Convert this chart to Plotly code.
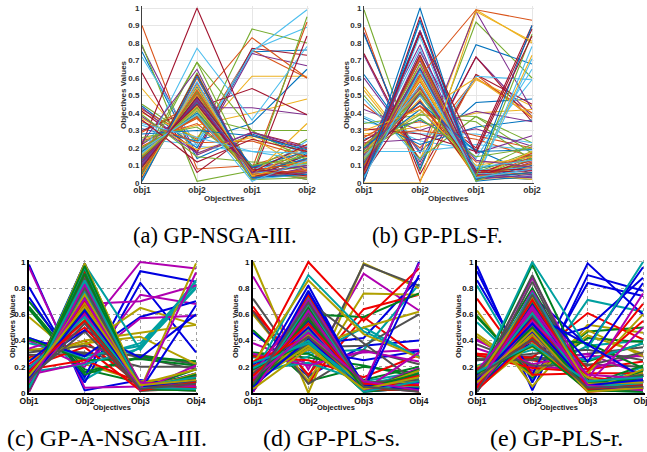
import plotly.graph_objects as go

a_obj1 = [.75,.90,.54,.78,.79,.72,.63, .44,.42,.40,.43,.45,.33,.41, .31,.29,.25,.22,.23,.25,.30, .20,.24,.21,.19,.18,.15,.22,
          .16,.13,.17,.12,.14,.16,.11, .10,.09,.12,.07,.10,.05,.08, .05,.06,.04,.10,.02,.03,.06, .13,.01,.08,.15,.06,.11,.03,
          .18,.21,.14,.23,.20,.17,.12, .09,.19,.16,.11,.26,.02,.14, .28,.35,.37,.38,.39,.34,.36, .01,.07,.04,.12,.15,.19,.09]
a_obj2 = [.14,.08,.17,.16,.01,.21,.06, .20,.25,.26,.17,.24,.23,.18, .24,.46,.33,.43,.38,.22,.43, .38,.34,.37,.46,.41,.77,1.0,
          .45,.47,.43,.50,.69,.42,.47, .48,.50,.46,.57,.69,.53,.50, .55,.51,.54,.49,.63,.56,.52, .46,.60,.50,.44,.52,.48,.62,
          .40,.37,.44,.65,.39,.42,.47, .49,.38,.42,.47,.32,.58,.45, .30,.23,.19,.17,.15,.26,.12, .61,.53,.56,.48,.43,.39,.49]
a_obj3 = [.28,.10,.27,.29,.07,.18,.29, .75,.76,.61,.74,.88,.76,.77, .34,.83,.40,.43,.30,.75,.54, .05,.08,.07,.03,.04,.36,.27,
          .03,.07,.06,.05,.06,.04,.03, .02,.04,.06,.08,.30,.03,.09, .03,.02,.05,.04,.02,.06,.05, .10,.04,.06,.09,.05,.07,.03,
          .06,.05,.03,.02,.08,.05,.04, .09,.07,.04,.03,.10,.02,.06, .27,.24,.26,.29,.12,.18,.25, .03,.05,.04,.06,.02,.01,.08]
a_obj4 = [.17,.20,.15,.18,.25,.13,.21, .76,.60,.61,.67,.80,.89,.73, .65,.60,.48,.39,.30,.99,.39, .05,.92,.03,.08,.95,.78,.20,
          .12,.06,.10,.04,.09,.24,.84, .17,.08,.13,.02,.13,.12,.05, .16,.14,.11,.07,.18,.03,.10, .09,.19,.04,.13,.06,.21,.16,
          .14,.03,.22,.09,.02,.11,.07, .18,.12,.34,.06,.15,.05,.22, .19,.15,.07,.20,.11,.17,.18, .05,.07,.12,.10,.03,.13,.04]

b_obj1 = [.62,.89,.55,.73,.99,.38,.86, .85,.45,.53,.60,.50,.35,.74, .37,.30,.28,.42,.34,.48,.31, .25,.27,.21,.23,.20,.18,.24,
          .18,.22,.15,.19,.17,.16,.13, .10,.12,.08,.14,.09,.11,.06, .05,.07,.03,.10,.06,.04,.02, .11,.15,.13,.16,.08,.12,.01,
          .09,.19,.17,.07,.21,.05,.03, .04,.06,.14,.02,.10,.13,.08, .20,.26,.30,.12,.18,.15,.05, .01,.10,.00,.08,.13,.03,.07]
b_obj2 = [.18,.01,.14,.10,.07,.24,.05, .08,.20,.13,.17,.14,.28,.12, .22,.35,.32,.30,.39,.13,.28, .36,.30,.40,.25,.39,.18,.44,
          .42,.46,.48,.52,.54,.50,.47, .56,.58,.60,.54,.60,.62,.64, 1.0,.72,.68,.70,.65,.92,.95, .65,.62,.59,.79,.73,.77,.86,
          .87,.55,.53,.75,.50,.84,.87, .65,.71,.60,.87,.68,.56,.73, .46,.44,.42,.51,.37,.50,.52, .93,.61,.00,.66,.52,.64,.86]
b_obj3 = [.46,.62,.59,.72,.92,.19,.62, .79,.60,.99,.98,.38,.28,.72, .32,.27,.40,.41,.38,.61,.18, .19,.25,.60,.31,.35,.22,.20,
          .08,.05,.03,.04,.05,.14,.04, .03,.05,.02,.06,.04,.08,.05, .01,.03,.04,.02,.06,.07,.03, .04,.06,.05,.02,.03,.01,.05,
          .06,.02,.03,.17,.07,.02,.04, .02,.04,.05,.03,.01,.06,.07, .18,.12,.10,.13,.15,.09,.06, .03,.99,.98,.05,.04,.03,.17]
b_obj4 = [.48,.37,.44,.38,.60,.59,.45, .68,.40,.80,.42,.23,.23,.35, .36,.20,.42,.35,.17,.59,.88, .05,.15,.38,.21,.13,.19,.90,
          .14,.10,.06,.17,.05,.65,.11, .08,.17,.03,.07,.11,.05,.16, .04,.13,.73,.12,.18,.09,.06, .02,.11,.09,.05,.16,.78,.03,
          .90,.15,.18,.27,.22,.71,.13, .10,.06,.02,.04,.14,.03,.08, .19,.12,.15,.09,.20,.13,.07, .06,.93,.81,.03,.85,.08,.84]

c_obj1 = [.98,.70,.01,.65,.96,.58,.33, .81,.66,.27,.42,.40,.33,.29, .73,.64,.20,.38,.34,.26,.31, .42,.41,.18,.16,.14,.25,.12,
          .20,.08,.22,.05,.12,.10,.03, .13,.15,.09,.02,.06,.17,.07, .03,.11,.05,.10,.04,.01,.08, .15,.06,.12,.03,.09,.02,.13,
          .07,.18,.04,.01,.16,.03,.05, .24,.02,.10,.08,.19,.12,.06, .11,.14,.07,.19,.01,.06,.02, .09,.05,.16,.04,.08,.13,.10]
c_obj2 = [.02,.18,.94,.10,.04,.22,.31, .08,.16,.40,.26,.20,.36,.30, .12,.14,.35,.28,.47,.38,.36, .28,.25,.25,.22,.23,.40,.47,
          .48,.84,.50,.99,.68,.70,.97, .84,.65,.92,.98,.73,.56,.78, .99,.72,.90,.62,.76,.99,.85, .66,.95,.62,.84,.59,.98,.74,
          .70,.55,.87,.96,.64,.80,.82, .58,.97,.67,.77,.60,.69,.80, .74,.64,.71,.58,.83,.75,.88, .63,.91,.55,.86,.72,.66,.53]
c_obj3 = [.10,.08,.03,.35,.05,.09,.20, .84,.27,.06,.38,.75,.65,.29, .93,.28,.02,.36,1.0,.43,.27, .58,.26,.08,.34,.57,.46,.03,
          .27,.05,.04,.02,.70,.03,.02, .03,.06,.02,.33,.05,.03,.02, .02,.02,.04,.05,.03,.04,.07, .06,.03,.07,.02,.02,.05,.03,
          .04,.05,.03,.02,.06,.02,.04, .08,.02,.05,.03,.04,.07,.02, .03,.04,.06,.05,.08,.03,.05, .05,.03,.02,.04,.02,.06,.03]
c_obj4 = [.05,.06,.04,.81,.09,.12,.20, .31,.24,.07,.83,.68,.52,.22, .85,.24,.03,.85,.95,.22,.18, .70,.21,.06,.80,.59,.52,.15,
          .60,.08,.11,.10,.82,.99,.12, .15,.03,.05,.86,.02,.08,.14, .67,.04,.09,.07,.12,.05,.06, .08,.18,.02,.04,.21,.13,.08,
          .05,.11,.13,.06,.09,.15,.10, .03,.14,.04,.09,.03,.18,.03, .02,.07,.06,.12,.05,.02,.09, .10,.02,.08,.03,.92,.10,.07]

d_obj1 = [.46,.48,.66,.27,.89,1.0,.72, .15,.31,.63,.12,.38,.60,.62, .17,.29,.28,.17,.30,.21,.14, .10,.07,.20,.13,.05,.22,.01,
          .03,.05,.08,.07,.02,.10,.06, .01,.09,.04,.15,.12,.04,.08, .19,.02,.11,.06,.16,.13,.03, .12,.14,.18,.02,.09,.06,.10,
          .22,.04,.01,.10,.07,.16,.05, .08,.11,.24,.03,.14,.08,.02, .05,.18,.09,.23,.01,.12,.15, .02,.06,.13,.19,.11,.03,.07]
d_obj2 = [.13,.09,.08,.31,.18,.00,.12, .37,.27,.14,.28,.22,.09,.07, .33,.30,.25,.23,.21,.33,.35, .82,.60,1.0,.90,.75,.86,.70,
          .72,.58,.68,.60,.64,.52,.50, .76,.42,.74,.46,.56,.66,.55, .44,.62,.55,.70,.48,.49,.63, .50,.54,.65,.72,.53,.44,.38,
          .40,.65,.60,.47,.59,.41,.58, .56,.36,.43,.68,.71,.36,.61, .41,.39,.57,.38,.63,.45,.43, .78,.57,.53,.40,.46,.34,.69]
d_obj3 = [.36,.20,.58,.33,.91,.99,.98, .42,.21,.64,.50,.31,.76,.33, .25,.10,.12,.09,.32,.50,.36, .04,.58,.55,.47,.03,.45,.38,
          .02,.08,.06,.04,.05,.03,.02, .03,.05,.04,.07,.02,.06,.09, .05,.02,.08,.03,.06,.02,.04, .01,.04,.03,.05,.03,.09,.02,
          .07,.03,.02,.08,.04,.01,.06, .02,.06,.05,.02,.07,.04,.03, .04,.01,.03,.06,.02,.05,.08, .06,.03,.07,.01,.09,.03,.05]
d_obj4 = [.40,.15,.27,.83,.63,.80,.82, .88,.12,.75,.27,.33,.75,.22, .32,.20,.29,.16,.24,.62,.60, 1.0,.76,.95,.28,.19,.27,.07,
          .90,.05,.03,.06,.10,.03,.11, .02,.09,.05,.14,.31,.08,.04, .12,.18,.01,.07,.99,.17,.06, .04,.02,.10,.03,.12,.05,.15,
          .07,.13,.08,.02,.04,.10,.13, .05,.06,.13,.11,.03,.09,.02, .08,.04,.02,.05,.07,.06,.10, .03,.15,.06,.09,.02,.12,.01]

e_obj1 = [.97,.28,.30,.82,.41,.63,.25, .93,.59,.30,.54,.34,.45,.26, .86,.58,.29,.18,.40,.43,.25, .19,.16,.72,.21,.14,.20,.37,
          .12,.09,.15,.11,.08,.13,.07, .05,.10,.03,.14,.02,.06,.04, .01,.13,.06,.08,.17,.02,.09, .03,.07,.12,.02,.10,.09,.05,
          .08,.04,.18,.13,.05,.15,.11, .14,.01,.09,.04,.12,.03,.16, .06,.11,.02,.07,.03,.10,.01, .10,.15,.04,.16,.07,.08,.12]
e_obj2 = [.02,.26,.25,.10,.17,.05,.28, .08,.12,.27,.14,.20,.15,.25, .14,.13,.19,.40,.22,.13,.30, .38,.42,.14,.33,.46,.35,.21,
          .74,.98,.60,1.0,.88,.70,.90, .72,.80,.64,.65,.78,.60,.85, .60,.55,.50,.76,.68,.53,.66, .44,.63,.62,.70,.57,.45,.49,
          .58,.48,.40,.52,.64,.43,.54, .47,.68,.56,.72,.51,.38,.59, .67,.50,.42,.61,.55,.73,.75, .53,.36,.71,.37,.66,.48,.41]
e_obj3 = [.90,.24,.18,.71,.28,.52,.22, .84,.47,.61,.36,.18,.48,.30, .99,.42,.16,.03,.30,.44,.33, .50,.38,.15,.25,.10,.15,.21,
          .36,.10,.05,.34,.09,.03,.02, .24,.06,.18,.03,.05,.08,.04, .37,.02,.04,.08,.03,.05,.06, .05,.03,.12,.02,.07,.04,.03,
          .07,.05,.02,.06,.02,.12,.08, .02,.08,.06,.04,.04,.02,.05, .03,.04,.01,.05,.14,.07,.02, .06,.02,.03,.09,.06,.01,.04]
e_obj4 = [.78,.38,.24,.62,.28,.46,.20, .74,.50,.41,.40,.30,.28,.35, .60,.39,.68,.20,.14,.30,.25, .88,.19,.15,.38,.76,.60,.31,
          .96,.09,.02,1.0,.12,.05,.08, .84,.21,.55,.14,.04,.11,.03, .12,.03,.10,.09,.07,.15,.13, .05,.17,.08,.01,.50,.06,.10,
          .02,.07,.13,.04,.09,.02,.14, .08,.11,.05,.10,.03,.18,.06, .04,.13,.03,.07,.11,.08,.02, .10,.01,.06,.12,.02,.04,.05]

top_ticks = ["obj1", "obj2", "obj1", "obj2"]
bottom_ticks = ["Obj1", "Obj2", "Obj3", "Obj4"]
top_y = [0, .1, .2, .3, .4, .5, .6, .7, .8, .9, 1]
bottom_y = [0, .2, .4, .6, .8, 1]
captions = ["(a) GP-NSGA-III.", "(b) GP-PLS-F.", "(c) GP-A-NSGA-III.", "(d) GP-PLS-s.", "(e) GP-PLS-r."]
x_title = "Objectives"
y_title = "Objectives Values"

top_colors = ["#0072BD", "#D95319", "#EDB120", "#7E2F8E", "#77AC30", "#4DBEEE", "#A2142F"]
bottom_colors = ["#0000E0", "#007F20", "#F00000", "#00A0A0", "#B000B0", "#B0A000", "#505050"]

W, H = 647, 452
PAD = 0.012
panels = [
    (a_obj1, a_obj2, a_obj3, a_obj4, 142, 307, 8, 183, True, 215, 235, 22.5, 224, 198, 123, 95),
    (b_obj1, b_obj2, b_obj3, b_obj4, 364, 532, 8, 183, True, 437, 235, 22.5, 448, 198, 346, 95),
    (c_obj1, c_obj2, c_obj3, c_obj4, 29, 196, 262, 393, False, 107, 437.5, 24, 112, 407, 12, 326),
    (d_obj1, d_obj2, d_obj3, d_obj4, 253, 419, 262, 393, False, 331.5, 437.5, 24, 336, 407, 235, 326),
    (e_obj1, e_obj2, e_obj3, e_obj4, 477, 643, 262, 393, False, 556, 437.5, 24, 559, 407, 458, 326),
]

fig = go.Figure()
layout = {}
anns = []
for i, (o1, o2, o3, o4, x0, x1, y0, y1, top, cx, cy, cs, tx, ty, sx, sy) in enumerate(panels):
    n = "" if i == 0 else str(i + 1)
    colors = top_colors if top else bottom_colors
    for k in range(len(o1)):
        fig.add_trace(go.Scatter(
            x=[1, 2, 3, 4], y=[o1[k], o2[k], o3[k], o4[k]], mode="lines",
            xaxis="x" + n, yaxis="y" + n, showlegend=False, hoverinfo="skip",
            line=dict(color=colors[k % 7], width=1.1 if top else 2.0),
        ))
    axcolor = "#404040" if top else "#000000"
    text_color = "#303030" if top else "#111111"
    grid = dict(showgrid=True, gridcolor="#e6e6e6" if top else "#a0a0a0",
                griddash="solid" if top else "dot", gridwidth=1, zeroline=False)
    x_end = x1 + PAD * (x1 - x0)
    y_end = y0 - PAD * (y1 - y0)
    layout["xaxis" + n] = dict(
        domain=[x0 / W, x_end / W], range=[1, 4 + 3 * PAD], anchor="y" + n,
        tickvals=[1, 2, 3, 4], ticktext=["<b>" + t + "</b>" for t in (top_ticks if top else bottom_ticks)],
        ticks="", ticklen=0, showline=True, linecolor=axcolor, linewidth=1 if top else 2,
        tickfont=dict(family="Liberation Sans", size=8.5, color=text_color),
        ticklabelstandoff=-1, ticklabeloverflow="allow",
        automargin=False, **grid)
    layout["yaxis" + n] = dict(
        domain=[1 - y1 / H, 1 - y_end / H], range=[0, 1 + PAD], anchor="x" + n,
        tickvals=top_y if top else bottom_y,
        ticktext=[f"<b>{v:g}</b>" for v in (top_y if top else bottom_y)],
        ticks="", ticklen=0, showline=True, linecolor=axcolor, linewidth=1 if top else 2,
        tickfont=dict(family="Liberation Sans", size=8, color=text_color),
        automargin=False, **grid)
    title_font = dict(family="Liberation Sans", size=8 if top else 7.5, color=text_color)
    anns.append(dict(text="<b>" + x_title + "</b>", x=tx / W, y=1 - ty / H, xref="paper", yref="paper",
                     xanchor="center", yanchor="middle", showarrow=False, font=title_font))
    anns.append(dict(text="<b>" + y_title + "</b>", x=sx / W, y=1 - sy / H, xref="paper", yref="paper",
                     xanchor="center", yanchor="middle", showarrow=False, textangle=-90, font=title_font))
    anns.append(dict(text=captions[i], x=cx / W, y=1 - cy / H, xref="paper", yref="paper",
                     xanchor="center", yanchor="middle", showarrow=False,
                     font=dict(family="Liberation Serif", size=cs, color="#000000")))

fig.update_layout(width=W, height=H, margin=dict(l=0, r=0, t=0, b=0),
                  paper_bgcolor="white", plot_bgcolor="white", annotations=anns, **layout)
fig.write_html("out.html", config={"displayModeBar": False},
               post_script="document.body.style.margin='0';document.body.style.overflow='hidden';")
